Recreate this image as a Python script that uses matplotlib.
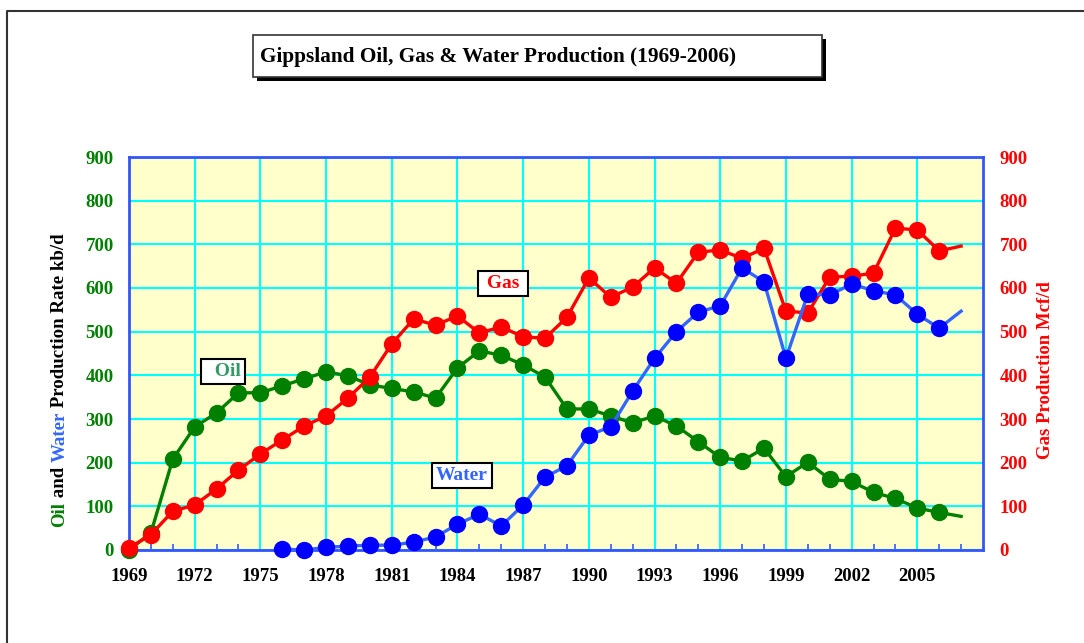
import matplotlib
matplotlib.use("Agg")
import matplotlib.pyplot as plt
from matplotlib.patches import Rectangle
from matplotlib.lines import Line2D

plt.rcParams['font.family'] = ['Liberation Serif', 'DejaVu Serif']
plt.rcParams['font.weight'] = 'bold'

# --- data (1969-2007) ---
years = list(range(1969, 2008))
oil = [0, 39, 208, 282, 314, 360, 360, 376, 392, 408, 399, 378, 370, 362, 348,
       417, 456, 446, 424, 396, 323, 323, 307, 291, 307, 284, 248, 212, 204,
       233, 168, 201, 162, 157, 132, 118, 96, 86, 77]
gas = [5, 35, 89, 103, 140, 183, 220, 252, 284, 307, 348, 396, 472, 529, 515,
       536, 497, 511, 488, 485, 533, 623, 579, 602, 646, 611, 682, 687, 668,
       691, 547, 543, 625, 627, 634, 737, 733, 685, 696]
water_years = list(range(1976, 2008))
water = [2, 0, 6, 9, 11, 11, 18, 30, 59, 82, 55, 103, 167, 193, 263, 282, 364,
         439, 500, 545, 559, 646, 614, 439, 586, 584, 609, 594, 584, 540, 508, 547]

x_ticks = list(range(1969, 2006, 3))
y_ticks = list(range(0, 1000, 100))

GREEN = '#008000'
RED = '#ff0000'
BLUE_LINE = '#3366ff'
BLUE_MARK = '#0000ff'
SPINE = '#3355ff'
GRID = '#00ffff'

W, H = 1084, 643
fig = plt.figure(figsize=(W / 100, H / 100), dpi=100)

def fx(px):
    return px / W

def fy(py):
    return 1 - py / H

# outer frame (only top/left visible)
fig.add_artist(Line2D([fx(7), fx(7), 1.0], [0.0, fy(11), fy(11)],
                      color='#333333', lw=1.5, transform=fig.transFigure))

ax = fig.add_axes([fx(129), fy(550), fx(983) - fx(129), fy(157) - fy(550)])
ax.set_facecolor('#ffffcc')

ax.plot(years, oil, color=GREEN, lw=2.4, marker='o', ms=11.5,
        mfc=GREEN, mec=GREEN, markevery=slice(0, len(years) - 1), zorder=3,
        clip_on=False)
ax.plot(years, gas, color=RED, lw=2.4, marker='o', ms=11.5,
        mfc=RED, mec=RED, markevery=slice(0, len(years) - 1), zorder=4,
        clip_on=False)
ax.plot(water_years, water, color=BLUE_LINE, lw=2.4, marker='o', ms=11.5,
        mfc=BLUE_MARK, mec=BLUE_MARK, markevery=slice(0, len(water_years) - 1),
        zorder=5, clip_on=False)

ax.set_xlim(1969, 2008)
ax.set_ylim(0, 900)
ax.set_xticks(x_ticks)
ax.set_xticks(years, minor=True)
ax.set_yticks(y_ticks)
ax.grid(True, which='major', color=GRID, lw=1.5, zorder=1)
ax.set_axisbelow(True)
for s in ax.spines.values():
    s.set_color(SPINE)
    s.set_linewidth(2)
ax.tick_params(axis='x', which='major', length=0, pad=13, labelsize=13.5,
               labelcolor='black')
ax.tick_params(axis='x', which='minor', direction='in', length=4, width=1.2,
               color=SPINE)
ax.tick_params(axis='y', length=0, pad=11, labelsize=13.5, labelcolor=GREEN)
for lab in ax.get_xticklabels() + ax.get_yticklabels():
    lab.set_fontweight('bold')

ax2 = ax.twinx()
ax2.set_ylim(0, 900)
ax2.set_yticks(y_ticks)
ax2.tick_params(axis='y', length=0, pad=12, labelsize=13.5, labelcolor=RED)
for lab in ax2.get_yticklabels():
    lab.set_fontweight('bold')
for s in ax2.spines.values():
    s.set_visible(False)
ax2.set_ylabel('Gas Production Mcf/d', color=RED, fontsize=13.5,
               fontweight='bold')
ax2.yaxis.set_label_coords(1.0 + (1037 - 983) / 854, (550 - 370) / 393)

# series labels in boxes
box = dict(boxstyle='square,pad=0.2', fc='white', ec='black', lw=1.5)
ax.text(1973.3, 409, '  Oil', color='#339966', fontsize=14, fontweight='bold',
        ha='center', va='center', bbox=box, zorder=6)
ax.text(1986.1, 610, ' Gas ', color=RED, fontsize=14, fontweight='bold',
        ha='center', va='center', bbox=box, zorder=6)
ax.text(1984.2, 171, 'Water', color=BLUE_LINE, fontsize=14, fontweight='bold',
        ha='center', va='center', bbox=box, zorder=6)

# title box with drop shadow
fig.add_artist(Rectangle((fx(257), fy(81)), fx(826) - fx(257), fy(39) - fy(81),
                         transform=fig.transFigure, fc='black', ec='none'))
fig.add_artist(Rectangle((fx(253), fy(77)), fx(822) - fx(253), fy(35) - fy(77),
                         transform=fig.transFigure, fc='white', ec='#333333',
                         lw=1.2))
fig.text(fx(260), fy(57), 'Gippsland Oil, Gas & Water Production (1969-2006)',
         fontsize=15.3, fontweight='bold', ha='left', va='center')

# multi-coloured left axis label, stacked bottom to top
fig.canvas.draw()
renderer = fig.canvas.get_renderer()
pieces = [('Oil', GREEN), (' and ', 'black'), ('Water', BLUE_LINE),
          (' Production Rate kb/d', 'black')]

def text_len(s):
    t = fig.text(0, 0, s + '|', fontsize=13.6, fontweight='bold', rotation=90)
    b = fig.text(0, 0, '|', fontsize=13.6, fontweight='bold', rotation=90)
    h = t.get_window_extent(renderer).height - b.get_window_extent(renderer).height
    t.remove()
    b.remove()
    return h

prefix = ''
y0 = 527
for s, c in pieces:
    off = text_len(prefix) if prefix else 0
    fig.text(fx(60), fy(y0 - off), s, color=c, fontsize=13.6, fontweight='bold',
             rotation=90, ha='center', va='bottom')
    prefix += s

fig.savefig('out.png', dpi=100)
